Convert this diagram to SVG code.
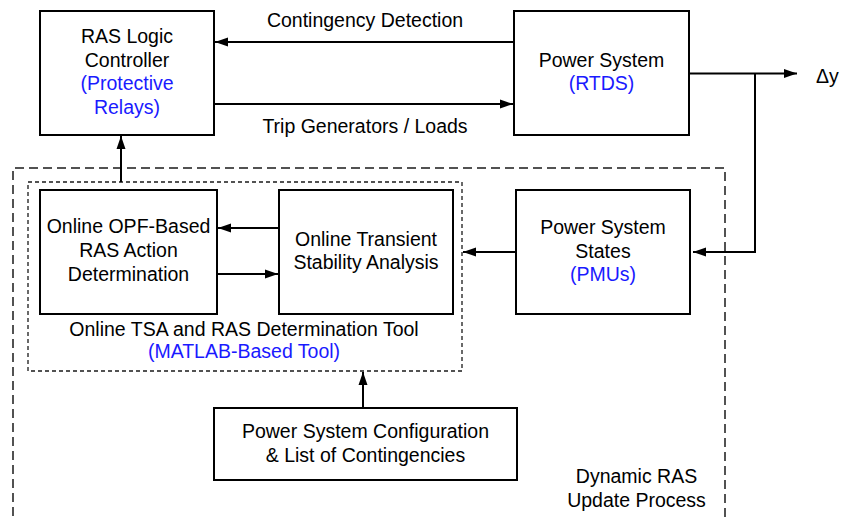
<svg xmlns="http://www.w3.org/2000/svg" width="841" height="520" viewBox="0 0 841 520">
<defs>
<style>
text{font-family:"Liberation Sans",Arial,sans-serif;font-size:19.5px;fill:#000;text-anchor:middle}
.blue{fill:#1a1aff}
.box{fill:#fff;stroke:#000;stroke-width:2}
.wire{fill:none;stroke:#000;stroke-width:2}
.outer{fill:none;stroke:#1a1a1a;stroke-width:1.5;stroke-dasharray:9 5}
.inner{fill:none;stroke:#1a1a1a;stroke-width:1.3;stroke-dasharray:4 3}
</style>
<marker id="ah" markerUnits="userSpaceOnUse" markerWidth="14" markerHeight="10" viewBox="0 0 14 10" refX="13" refY="5" orient="auto">
<path d="M0,0.5 L13,5 L0,9.5 Z" fill="#000"/>
</marker>
</defs>
<rect fill="#fff" x="0" y="0" width="841" height="520"/>

<g id="frames">
<path class="outer" d="M13,530 L13,168 L725,168 L725,530"/>
<rect class="inner" x="28" y="182" width="434" height="189"/>
<text x="244" y="336">Online TSA and RAS Determination Tool</text>
<text class="blue" x="244" y="358">(MATLAB-Based Tool)</text>
<text x="636.5" y="483">Dynamic RAS</text>
<text x="636.5" y="507">Update Process</text>
</g>

<g id="connectors">
<line class="wire" x1="514" y1="42" x2="215" y2="42" marker-end="url(#ah)"/>
<line class="wire" x1="214" y1="104" x2="513" y2="104" marker-end="url(#ah)"/>
<line class="wire" x1="689" y1="73.5" x2="797" y2="73.5" marker-end="url(#ah)"/>
<path class="wire" d="M755,73.5 L755,252 L693,252" marker-end="url(#ah)"/>
<line class="wire" x1="516" y1="252" x2="463" y2="252" marker-end="url(#ah)"/>
<line class="wire" x1="279" y1="228" x2="218" y2="228" marker-end="url(#ah)"/>
<line class="wire" x1="217" y1="274" x2="278" y2="274" marker-end="url(#ah)"/>
<line class="wire" x1="121" y1="182" x2="121" y2="136" marker-end="url(#ah)"/>
<line class="wire" x1="363" y1="408" x2="363" y2="372" marker-end="url(#ah)"/>
<text x="365" y="27">Contingency Detection</text>
<text x="365" y="133">Trip Generators / Loads</text>
<text x="816" y="83" style="text-anchor:start">Δy</text>
</g>

<g id="ras">
<rect class="box" x="40" y="11" width="174" height="124"/>
<text x="127" y="43">RAS Logic</text>
<text x="127" y="67">Controller</text>
<text class="blue" x="127" y="90">(Protective</text>
<text class="blue" x="127" y="114">Relays)</text>
</g>

<g id="power">
<rect class="box" x="514" y="11" width="175" height="124"/>
<text x="601.5" y="67">Power System</text>
<text class="blue" x="601.5" y="90">(RTDS)</text>
</g>

<g id="opf">
<rect class="box" x="40" y="190" width="177" height="124"/>
<text x="128.5" y="233">Online OPF-Based</text>
<text x="128.5" y="257">RAS Action</text>
<text x="128.5" y="281">Determination</text>
</g>

<g id="tsa">
<rect class="box" x="279" y="190" width="174" height="124"/>
<text x="366" y="246">Online Transient</text>
<text x="366" y="269">Stability Analysis</text>
</g>

<g id="pmu">
<rect class="box" x="516" y="190" width="174" height="124"/>
<text x="603" y="234">Power System</text>
<text x="603" y="258">States</text>
<text class="blue" x="603" y="281">(PMUs)</text>
</g>

<g id="config">
<rect class="box" x="214" y="408" width="303" height="72"/>
<text x="365.5" y="438">Power System Configuration</text>
<text x="365.5" y="462">&amp; List of Contingencies</text>
</g>
</svg>
